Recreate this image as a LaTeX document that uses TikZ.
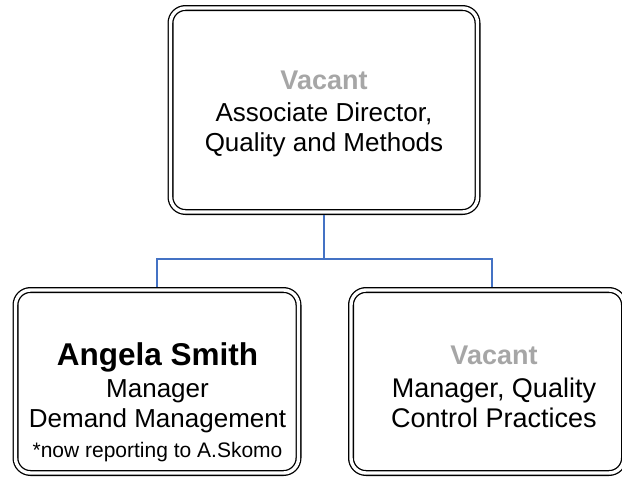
\documentclass[tikz,border=0pt]{standalone}
\usepackage{fontspec}
\setmainfont{Liberation Sans}
\definecolor{vac}{RGB}{166,166,166}
\definecolor{connc}{RGB}{68,114,196}
\begin{document}
\begin{tikzpicture}[x=1pt,y=-1pt,
  orgbox/.style={draw=black, line width=1.3pt, double=white, double distance=3.4pt,
    rounded corners=15pt, inner sep=0pt, outer sep=3pt},
  orglink/.style={draw=connc, line width=1.5pt},
  orgtxt/.style={anchor=base, inner sep=0pt, font=\fontsize{26}{31}\selectfont},
  righttxt/.style={orgtxt, font=\fontsize{27}{31}\selectfont},
  vacanttxt/.style={orgtxt, text=vac, font=\fontsize{27}{31}\selectfont\bfseries},
  persontxt/.style={orgtxt, font=\fontsize{31.5}{36}\selectfont\bfseries},
  notetxt/.style={orgtxt, font=\fontsize{21}{24}\selectfont}]
\useasboundingbox (0,0) rectangle (622,477);
\node[orgbox, minimum width=307pt, minimum height=204pt] (top) at (324,110) {};
\node[orgbox, minimum width=283pt, minimum height=183pt] (left) at (157,381.5) {};
\node[orgbox, minimum width=273pt, minimum height=183pt] (right) at (487.5,381.5) {};
\draw[orglink] (top.south) -- ++(0,44) -| (left.north);
\draw[orglink] (top.south) -- ++(0,44) -| ([xshift=4.5pt]right.north);
\node[vacanttxt] (t1) at (324,89) {Vacant};
\node[orgtxt] (t2) at (324,121) {Associate Director,};
\node[orgtxt] (t3) at (324,151) {Quality and Methods};
\node[persontxt] (l1) at (157.5,365) {Angela Smith};
\node[orgtxt] (l2) at (157.5,397) {Manager};
\node[orgtxt] (l3) at (157.5,427) {Demand Management};
\node[notetxt] (l4) at (157.5,457) {*now reporting to A.Skomo};
\node[vacanttxt] (r1) at (494,364) {Vacant};
\node[righttxt] (r2) at (494,397) {Manager, Quality};
\node[righttxt] (r3) at (494,427) {Control Practices};
\end{tikzpicture}
\end{document}
